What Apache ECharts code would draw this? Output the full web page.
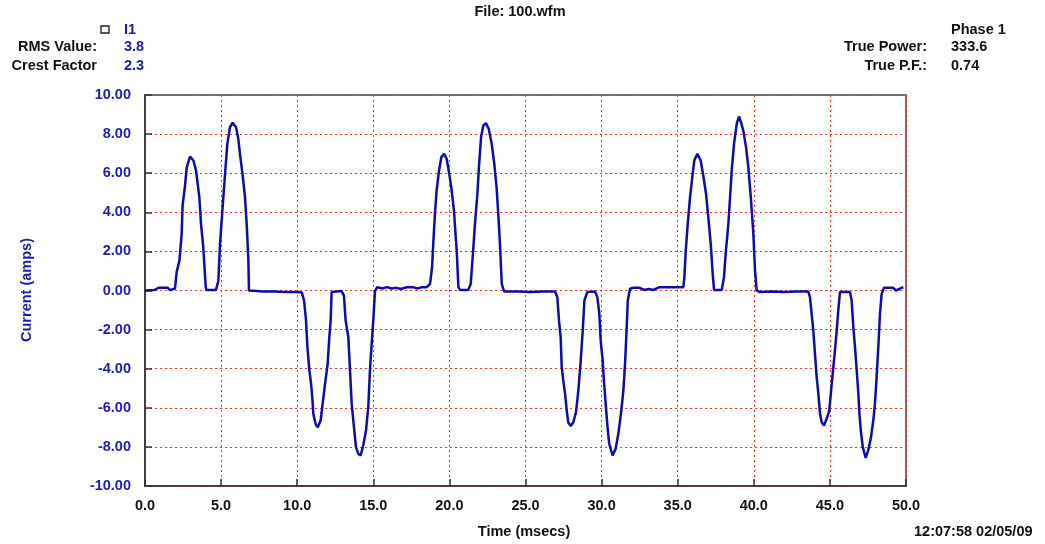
<!DOCTYPE html>
<html>
<head>
<meta charset="utf-8">
<script src="https://cdn.jsdelivr.net/npm/echarts@6/dist/echarts.min.js"></script>
<style>
  html, body { margin: 0; padding: 0; background: #fff; }
  #wave { width: 1045px; height: 544px; }
</style>
</head>
<body>
<div id="wave"></div>
<script>
// time (ms) / current (A), one array pair per mains cycle
var cycle1Time = [0, 0.6, 0.9, 1.5, 1.65, 1.97, 2.08, 2.26, 2.41, 2.47, 2.63, 2.74, 2.96, 3.18, 3.35, 3.57, 3.68, 3.83, 3.99, 4.05, 4.66, 4.82, 4.93, 5.1, 5.26, 5.41, 5.58, 5.76, 5.98, 6.13, 6.24, 6.42, 6.57, 6.68, 6.79, 6.83, 6.95, 7.8, 8.5, 9.2, 10.0, 10.3, 10.45, 10.58, 10.67, 10.8, 10.91, 10.99, 11.06, 11.22, 11.35, 11.54, 11.67, 11.83, 12.0, 12.11, 12.2, 12.26, 12.33, 12.92, 13.07, 13.18, 13.36, 13.47, 13.58, 13.73, 13.86, 14.02, 14.17, 14.34, 14.52, 14.67, 14.78, 14.89, 15.0, 15.11, 15.26, 15.6, 15.9, 16.2, 16.5, 16.8, 17.2, 17.6, 17.9, 18.2, 18.5, 18.73];
var cycle1Amps = [0, 0.02, 0.14, 0.14, 0.02, 0.1, 0.94, 1.53, 2.9, 4.35, 5.37, 6.3, 6.85, 6.65, 6.14, 4.77, 3.41, 2.2, 0.17, 0.02, 0.02, 0.5, 2.4, 4.26, 5.97, 7.5, 8.35, 8.58, 8.35, 7.76, 6.99, 5.88, 4.77, 3.41, 1.62, 0, -0.08, -0.05, -0.05, -0.08, -0.08, -0.1, -0.51, -1.53, -2.9, -4.09, -4.77, -5.46, -6.31, -6.85, -6.99, -6.65, -5.8, -4.77, -3.75, -2.39, -1.53, -0.08, -0.03, -0.03, -0.26, -1.53, -2.39, -4.09, -5.8, -6.99, -8.01, -8.36, -8.44, -7.93, -7.16, -5.97, -4.09, -2.73, -1.53, -0.03, 0.17, 0.1, 0.17, 0.1, 0.14, 0.08, 0.17, 0.17, 0.1, 0.17, 0.17, 0.34];

var cycle2Time = [18.86, 18.94, 19.05, 19.16, 19.32, 19.47, 19.65, 19.82, 19.99, 20.15, 20.3, 20.37, 20.48, 20.59, 20.7, 21.24, 21.4, 21.53, 21.68, 21.84, 21.94, 22.08, 22.23, 22.4, 22.58, 22.78, 22.95, 23.1, 23.21, 23.32, 23.44, 23.59, 24.5, 25.3, 26.2, 26.94, 27.09, 27.2, 27.31, 27.38, 27.48, 27.6, 27.71, 27.81, 27.97, 28.14, 28.32, 28.47, 28.63, 28.76, 28.87, 29.06, 29.57, 29.72, 29.85, 29.94, 30.07, 30.15, 30.27, 30.37, 30.5, 30.72, 30.92, 31.1, 31.27, 31.43, 31.54, 31.65, 31.72, 31.87, 32.1, 32.5, 32.8, 33.1, 33.4, 33.8, 35.37];
var cycle2Amps = [1.19, 2.39, 3.92, 5.12, 6.14, 6.82, 6.99, 6.74, 5.97, 5.12, 4.09, 3.24, 2.05, 0.17, 0.03, 0.03, 0.34, 1.7, 3.41, 4.95, 6.31, 7.84, 8.44, 8.56, 8.27, 7.5, 6.48, 5.28, 3.92, 2.39, 0.34, -0.05, -0.05, -0.08, -0.05, -0.05, -0.34, -1.53, -2.39, -3.92, -4.6, -5.28, -6.14, -6.74, -6.94, -6.74, -6.22, -5.12, -3.58, -2.05, -0.51, -0.08, -0.05, -0.34, -1.19, -2.56, -3.58, -4.6, -5.8, -6.82, -7.84, -8.44, -8.1, -7.33, -6.31, -5.12, -3.75, -1.88, -0.51, 0.09, 0.14, 0.14, 0.03, 0.08, 0.03, 0.17, 0.17];

var cycle3Time = [35.44, 35.53, 35.66, 35.81, 35.96, 36.09, 36.29, 36.51, 36.68, 36.86, 37.01, 37.17, 37.3, 37.39, 37.89, 38.04, 38.17, 38.33, 38.44, 38.55, 38.7, 38.88, 39.03, 39.16, 39.31, 39.49, 39.64, 39.82, 39.97, 40.08, 40.19, 40.41, 41.2, 42.0, 42.8, 43.58, 43.69, 43.8, 43.91, 44.02, 44.13, 44.24, 44.35, 44.46, 44.61, 44.79, 44.96, 45.12, 45.27, 45.45, 45.55, 45.66, 46.32, 46.43, 46.54, 46.65, 46.76, 46.87, 46.94, 47.03, 47.16, 47.35, 47.52, 47.7, 47.85, 47.96, 48.07, 48.18, 48.29, 48.4, 48.55, 49.15, 49.34, 49.6, 49.82];
var cycle3Amps = [0.68, 2.05, 3.41, 4.77, 5.8, 6.65, 6.99, 6.65, 5.88, 4.95, 3.75, 2.39, 0.85, 0.03, 0.03, 0.68, 2.05, 3.41, 4.77, 6.14, 7.5, 8.53, 8.9, 8.61, 8.18, 7.33, 6.31, 4.6, 2.9, 1.02, 0, -0.08, -0.05, -0.08, -0.05, -0.05, -0.34, -1.19, -2.05, -3.24, -4.43, -5.28, -6.31, -6.74, -6.91, -6.56, -6.14, -4.77, -3.58, -2.05, -1.02, -0.08, -0.08, -0.51, -1.88, -2.9, -4.09, -5.28, -6.31, -7.16, -8.01, -8.56, -8.18, -7.5, -6.65, -5.8, -4.43, -2.9, -1.19, -0.17, 0.14, 0.14, 0, 0.09, 0.17];

var xTicks = [0, 5, 10, 15, 20, 25, 30, 35, 40, 45, 50];
var yTicks = [-10, -8, -6, -4, -2, 0, 2, 4, 6, 8, 10];

var headerLeft = [['RMS Value:', '3.8'], ['Crest Factor', '2.3']];
var headerRight = [['True Power:', '333.6'], ['True P.F.:', '0.74']];

var blue = '#1c1cae';
var font = 'Liberation Sans, Arial, sans-serif';
var fs = 14.5;

var points = [];
[[cycle1Time, cycle1Amps], [cycle2Time, cycle2Amps], [cycle3Time, cycle3Amps]].forEach(function (c) {
    for (var i = 0; i < c[0].length; i++) points.push([c[0][i], c[1][i]]);
});

function txt(x, y, s, color, align) {
    return {
        type: 'text', x: x, y: y,
        style: { text: s, fill: color, font: 'bold ' + fs + 'px ' + font, textAlign: align || 'left', textVerticalAlign: 'middle' }
    };
}

var gfx = [
    txt(520, 12, 'File: 100.wfm', '#111', 'center'),
    { type: 'rect', shape: { x: 101, y: 26, width: 8, height: 7 }, style: { fill: '#fff', stroke: '#222', lineWidth: 1.4 } },
    txt(124, 30, 'I1', blue),
    txt(951, 30, 'Phase 1', '#111'),
    txt(524, 532, 'Time (msecs)', '#111', 'center'),
    txt(914, 532, '12:07:58 02/05/09', '#111'),
    {
        type: 'text', x: 27, y: 290, rotation: Math.PI / 2,
        style: { text: 'Current (amps)', fill: blue, font: 'bold ' + fs + 'px ' + font, textAlign: 'center', textVerticalAlign: 'middle' }
    }
];
headerLeft.forEach(function (r, i) {
    gfx.push(txt(97, 47 + i * 19, r[0], '#111', 'right'));
    gfx.push(txt(124, 47 + i * 19, r[1], blue));
});
headerRight.forEach(function (r, i) {
    gfx.push(txt(927, 47 + i * 19, r[0], '#111', 'right'));
    gfx.push(txt(951, 47 + i * 19, r[1], '#111'));
});

var chart = echarts.init(document.getElementById('wave'));
chart.setOption({
    backgroundColor: '#fff',
    animation: false,
    graphic: gfx,
    grid: { left: 145, right: 139, top: 95, bottom: 58, show: true, borderColor: '#444', borderWidth: 1.5, backgroundColor: '#fff' },
    xAxis: {
        type: 'value', min: xTicks[0], max: xTicks[xTicks.length - 1], interval: 5,
        axisLine: { onZero: false, lineStyle: { color: '#333', width: 1.5 } },
        axisTick: { inside: true, length: 7, lineStyle: { color: '#333', width: 1.5 } },
        axisLabel: { margin: 12, color: '#111', fontWeight: 'bold', fontSize: fs, fontFamily: font,
            formatter: function (v) { return v.toFixed(1); } },
        splitLine: { lineStyle: { color: '#ff2a2a', type: [2, 3], width: 1 } }
    },
    yAxis: {
        type: 'value', min: yTicks[0], max: yTicks[yTicks.length - 1], interval: 2,
        axisLine: { show: true, lineStyle: { color: '#333', width: 1.5 } },
        axisTick: { show: true, inside: true, length: 7, lineStyle: { color: '#333', width: 1.5 } },
        axisLabel: { margin: 14, color: blue, fontWeight: 'bold', fontSize: fs, fontFamily: font,
            formatter: function (v) { return v.toFixed(2); } },
        splitLine: { lineStyle: { color: '#ff2a2a', type: [2, 3], width: 1 } }
    },
    series: [{
        name: 'I1', type: 'line', data: points, showSymbol: false,
        lineStyle: { color: '#0c0ca6', width: 2.5 }
    }]
});
</script>
</body>
</html>
